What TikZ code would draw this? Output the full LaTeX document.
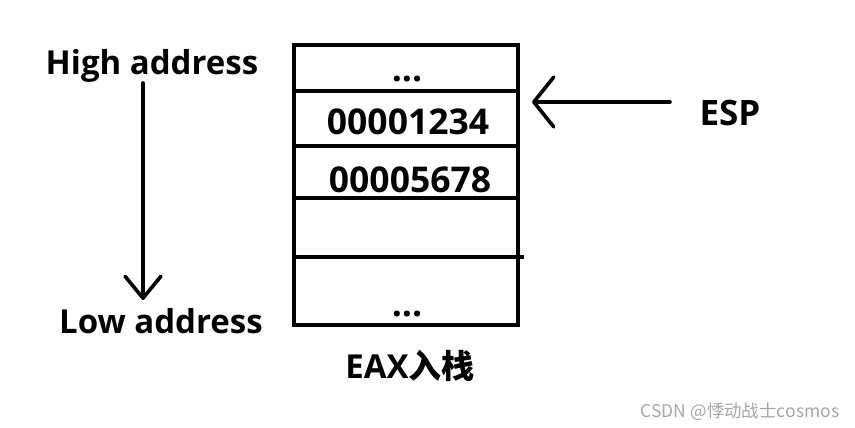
\documentclass[tikz,border=0pt]{standalone}
\usepackage{fontspec}
\setmainfont{Open Sans}
\newfontfamily\cjk{Noto Sans CJK SC}
\usepackage{tikz}
\usetikzlibrary{arrows.meta}
\usepackage{xcolor}

\begin{document}
\begin{tikzpicture}[x=1pt, y=-1pt, line width=3.6pt,
  lbl/.style={font=\bfseries\fontsize{33}{33}\selectfont, inner sep=0pt},
  num/.style={font=\bfseries\fontsize{35.5}{35.5}\selectfont, inner sep=0pt},
  espbarb/.style={-{Straight Barb[length=20pt, width=50pt, round]}},
  addrbarb/.style={-{Straight Barb[length=22pt, width=36pt, round]}}]
\useasboundingbox (0,0) rectangle (855,428);
% stack frame and cells
\draw (294,45) rectangle (518,325);
\draw (294,91) -- (518,91);
\draw (294,146) -- (518,146);
\draw (294,198) -- (518,198);
\draw (294,257) -- (524,257);
% cell contents
\node[num] (topdots) at (407,79) {...};
\node[num] (val1) at (408,122) {00001234};
\node[num] (val2) at (410,180) {00005678};
\node[num] (botdots) at (407,314) {...};
\node[lbl, anchor=base] (push) at (410,378) {EAX{\cjk\bfseries 入栈}};
% stack pointer
\node[lbl, font=\bfseries\fontsize{35}{35}\selectfont, anchor=base] (esp) at (730,125) {ESP};
\coordinate (esptail) at (670,102);
\coordinate (esptip) at (532,102);
\draw[espbarb, line cap=round] (esptail) -- (esptip);
% address direction
\node[lbl, anchor=base] (high) at (152,75) {High address};
\node[lbl, anchor=base] (low) at (161,333) {Low address};
\coordinate (hightail) at (143,83);
\coordinate (lowtip) at (143,300);
\draw[addrbarb, line cap=round] (hightail) -- (lowtip);
% watermark
\node[font=\cjk\fontsize{17.5}{17.5}\selectfont, text=gray!70, inner sep=0pt, anchor=base] (mark) at (740,417) {CSDN @悸动战士cosmos};
\end{tikzpicture}
\end{document}
